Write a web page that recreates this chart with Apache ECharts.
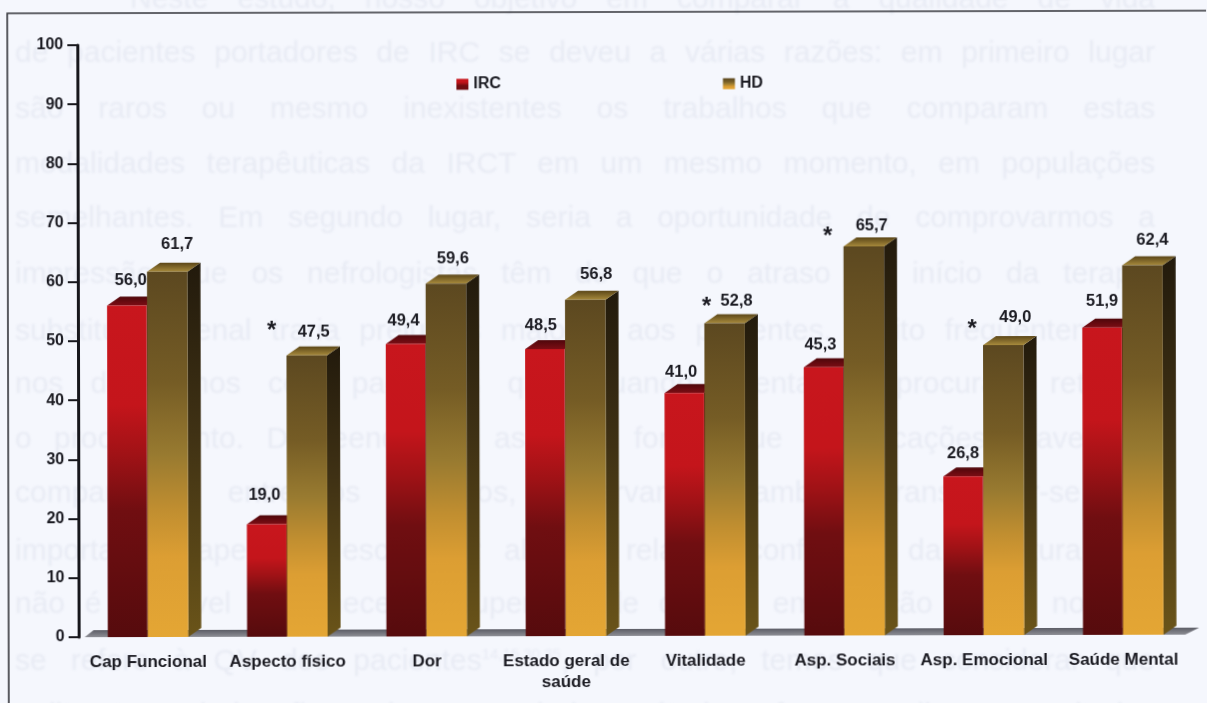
<!DOCTYPE html>
<html lang="pt">
<head>
<meta charset="utf-8">
<title>Qualidade de vida: IRC e HD</title>
<script src="https://cdn.jsdelivr.net/npm/echarts@6/dist/echarts.min.js"></script>
<style>
  html, body { margin: 0; padding: 0; width: 1207px; height: 703px; overflow: hidden; background: #f5f7fd; }
  #page { position: absolute; inset: 0; filter: blur(1.2px); font: 30px "Liberation Sans", Arial, sans-serif; color: #e8ebf4; }
  #page div { position: absolute; text-align: justify; text-align-last: justify; line-height: 30px; height: 34px; overflow: hidden; }
  #page sup { font-size: 15px; line-height: 0; }
  #chart { position: absolute; left: 0; top: 0; width: 1207px; height: 703px; transform: rotate(-0.13deg); }
</style>
</head>
<body>
<div id="page"></div>
<div id="chart"></div>
<script>
// Domínios de qualidade de vida
const categories = ['Cap Funcional', 'Aspecto físico', 'Dor', 'Estado geral de\nsaúde',
  'Vitalidade', 'Asp. Sociais', 'Asp. Emocional', 'Saúde Mental'];
const ircValues = [56.0, 19.0, 49.4, 48.5, 41.0, 45.3, 26.8, 51.9];
const hdValues = [61.7, 47.5, 59.6, 56.8, 52.8, 65.7, 49.0, 62.4];
// Domínios com diferença significativa entre os grupos
const significant = [false, true, false, false, true, true, true, false];
const yTicks = { min: 0, max: 100, interval: 10 };

// Ajuste fino dos rótulos em relação ao topo de cada barra: [dx, dy]
const ircLabelShift = [[4, -25], [-2, -29], [-2, -23], [-4, -23], [-3, -21], [-3, -22], [0, -23], [0, -26]];
const hdLabelShift = [[10, -27], [7, -23], [7, -25], [11, -25], [12, -22], [8, -21], [12, -27], [10, -25]];
const starShift = [-42, -42, -42, -42, -30, -44, -43, -42];
const starLift = [0, -4, 0, 0, 3, 8, 8, 0];

// Texto corrido da página impressa, visto por transparência atrás do gráfico
const bodyLines = [
  [-17, 130, 'Neste estudo, nosso objetivo em comparar a qualidade de vida'],
  [37, 15, 'de pacientes portadores de IRC se deveu a várias razões: em primeiro lugar'],
  [93, 15, 'são raros ou mesmo inexistentes os trabalhos que comparam estas'],
  [148, 15, 'modalidades terapêuticas da IRCT em um mesmo momento, em populações'],
  [202, 15, 'semelhantes. Em segundo lugar, seria a oportunidade de comprovarmos a'],
  [258, 15, 'impressão que os nefrologistas têm de que o atraso no início da terapia'],
  [315, 15, 'substitutiva renal traria prejuízos maiores aos pacientes. Muito frequentemente'],
  [368, 15, 'nos deparamos com pacientes que, quando orientados, procuram retardar'],
  [423, 15, 'o procedimento. Depreendemos assim a forma que complicações graves no'],
  [477, 15, 'comparações entre os métodos, observamos também transformar-se em'],
  [535, 15, 'importante papel em esclarecer alguma relação conflitante da literatura que'],
  [588, 15, 'não é possível reconhecer a superioridade da DP em relação à HD no que'],
  [645, 15, 'se refere à QV dos pacientes<sup>14,15,30,35</sup>, por outro, temos que considerar que'],
  [699, 15, 'a literatura ainda não esclarece qual dos métodos oferece melhores resultados']
];
const page = document.getElementById('page');
bodyLines.forEach(function (line) {
  const el = document.createElement('div');
  el.style.top = line[0] + 'px';
  el.style.left = line[1] + 'px';
  el.style.width = (1155 - line[1]) + 'px';
  el.innerHTML = line[2];
  page.appendChild(el);
});

const INK = '#1b1b22';
const FONT = '"Liberation Sans", Arial, sans-serif';
const DEPTH_X = 13;
const DEPTH_Y = 9;

const grad = function (stops) {
  return new echarts.graphic.LinearGradient(0, 0, 0, 1,
    stops.map(function (s) { return { offset: s[0], color: s[1] }; }));
};
const formatValue = function (v) { return v.toFixed(1).replace('.', ','); };

const ircStyle = {
  left: -40.5, width: 39.5,
  front: [[0, '#c8161d'], [0.3, '#c4151b'], [0.45, '#a01216'], [0.62, '#700e11'], [1, '#560b0d']],
  side: [[0, '#4a0608'], [1, '#3a0507']],
  top: [[0, '#4e070b'], [1, '#7c0d14']],
  shift: ircLabelShift
};
const hdStyle = {
  left: -0.5, width: 40.5,
  front: [[0, '#5c4820'], [0.3, '#755c25'], [0.5, '#987a30'], [0.65, '#c08e30'], [0.78, '#dc9e33'], [1, '#e4a634']],
  side: [[0, '#221a0c'], [0.45, '#3f3114'], [1, '#6a5419']],
  top: [[0, '#5b4618'], [1, '#a78a3c']],
  shift: hdLabelShift
};

// Barra em pseudo-3D: face frontal, lateral e tampa, com o rótulo de valor
function bar3d(style, withStar) {
  return function (params, api) {
    const i = api.value(0);
    const value = api.value(1);
    const cx = api.coord([i, 0])[0];
    const base = api.coord([i, 0])[1];
    const top = api.coord([i, value])[1];
    const x0 = cx + style.left;
    const x1 = x0 + style.width;
    const children = [
      { type: 'polygon', shape: { points: [[x1, top], [x1 + DEPTH_X, top - DEPTH_Y], [x1 + DEPTH_X, base - DEPTH_Y], [x1, base]] },
        style: { fill: grad(style.side) } },
      { type: 'polygon', shape: { points: [[x0, top], [x0 + DEPTH_X, top - DEPTH_Y], [x1 + DEPTH_X, top - DEPTH_Y], [x1, top]] },
        style: { fill: grad(style.top) } },
      { type: 'rect', shape: { x: x0, y: top, width: style.width, height: base - top },
        style: { fill: grad(style.front) } }
    ];
    const barCentre = x0 + style.width / 2;
    const lx = barCentre + style.shift[i][0];
    const ly = top + style.shift[i][1];
    children.push({ type: 'text', z2: 10, style: { text: formatValue(value), x: lx, y: ly, align: 'center', verticalAlign: 'middle',
      font: 'bold 16.5px ' + FONT, fill: INK } });
    if (withStar && significant[i]) {
      children.push({ type: 'text', z2: 10, style: { text: '*', x: lx + starShift[i], y: ly + starLift[i] + 3, align: 'center', verticalAlign: 'middle',
        font: 'bold 24px ' + FONT, fill: INK } });
    }
    return { type: 'group', children: children };
  };
}

// Piso cinza sob as barras
function floor(params, api) {
  const sys = params.coordSys;
  const y = api.coord([0, 0])[1];
  return { type: 'polygon', shape: { points: [
    [sys.x + 6, y], [sys.x + 15, y - 7], [sys.x + sys.width + 6, y - 7], [sys.x + sys.width - 8, y]
  ] }, style: { fill: grad([[0, '#5c5d66'], [1, '#8d8e95']]) } };
}

const chart = echarts.init(document.getElementById('chart'), null, { renderer: 'canvas', width: 1207, height: 703 });
chart.setOption({
  backgroundColor: 'transparent',
  animation: false,
  graphic: [{ type: 'rect', silent: true, z: -1, shape: { x: 8, y: 12, width: 1400, height: 900 },
    style: { fill: 'none', stroke: '#33343a', lineWidth: 1.6 } }],
  legend: {
    left: 457, top: 76, padding: 0, data: ['IRC', 'HD'], icon: 'rect', itemWidth: 12, itemHeight: 11, itemGap: 222, selectedMode: false,
    textStyle: { fontFamily: FONT, fontWeight: 'bold', fontSize: 16, color: INK, padding: [1, 0, 0, 0] }
  },
  grid: { left: 78, right: 14.5, top: 44, bottom: 67 },
  xAxis: {
    type: 'category', data: categories,
    axisLine: { show: false }, axisTick: { show: false },
    axisLabel: { interval: 0, margin: 15, fontFamily: FONT, fontWeight: 'bold', fontSize: 17, lineHeight: 21, color: INK }
  },
  yAxis: {
    type: 'value', min: yTicks.min, max: yTicks.max, interval: yTicks.interval,
    splitLine: { show: false },
    axisLine: { show: true, lineStyle: { color: '#17171c', width: 3 } },
    axisTick: { show: true, length: 10, lineStyle: { color: '#17171c', width: 2 } },
    axisLabel: { margin: 14, fontFamily: FONT, fontWeight: 'bold', fontSize: 16, color: INK }
  },
  series: [
    { name: 'piso', type: 'custom', silent: true, clip: false, data: [[0, 0]], renderItem: floor },
    { name: 'IRC', type: 'custom', silent: true, clip: false, itemStyle: { color: grad(ircStyle.front.slice(0, 4)) },
      data: ircValues.map(function (v, i) { return [i, v]; }), encode: { x: 0, y: 1 }, renderItem: bar3d(ircStyle, false) },
    { name: 'HD', type: 'custom', silent: true, clip: false, itemStyle: { color: grad(hdStyle.front) },
      data: hdValues.map(function (v, i) { return [i, v]; }), encode: { x: 0, y: 1 }, renderItem: bar3d(hdStyle, true) }
  ]
});
</script>
</body>
</html>
